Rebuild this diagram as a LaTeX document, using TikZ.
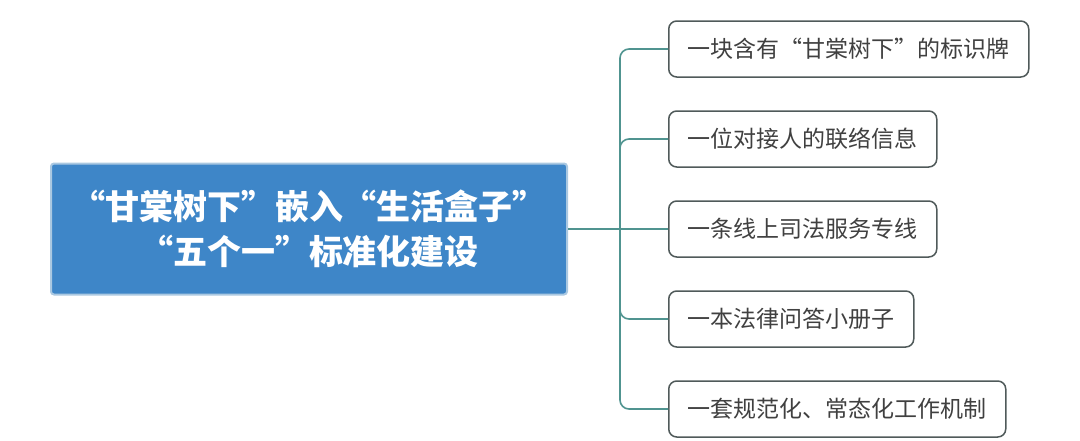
\documentclass[tikz,border=0pt]{standalone}
\usepackage{fontspec}
\newfontfamily\cjk{Noto Sans CJK SC}
\definecolor{boxblue}{RGB}{62,134,200}
\definecolor{edgeblue}{RGB}{170,200,225}
\definecolor{teal}{RGB}{80,148,144}
\definecolor{framegray}{RGB}{80,90,90}
\definecolor{textgray}{RGB}{64,64,64}
\tikzset{
  mainbox/.style={draw=edgeblue, line width=2pt, rounded corners=3pt, fill=boxblue, text=white,
    minimum width=516pt, minimum height=131pt, align=center,
    font=\cjk\bfseries\fontsize{34}{45}\selectfont},
  item/.style={draw=framegray, line width=1.5pt, rounded corners=8pt, fill=white,
    anchor=west, minimum height=56pt, inner xsep=19pt, text=textgray,
    font=\cjk\fontsize{23}{28}\selectfont},
  conn/.style={draw=teal, line width=1.6pt, rounded corners=9pt}
}
\begin{document}
\begin{tikzpicture}[x=1pt,y=-1pt]
	\useasboundingbox (0,0) rectangle (1080,440);
	\node[mainbox] (main) at (309,229) {“甘棠树下”嵌入“生活盒子”\\“五个一”标准化建设};
	\foreach \n/\y/\t in {1/49/一块含有“甘棠树下”的标识牌, 2/139/一位对接人的联络信息,
		3/229/一条线上司法服务专线, 4/319/一本法律问答小册子, 5/409/一套规范化、常态化工作机制}
		\node[item] (b\n) at (668,\y) {\t};
	\coordinate (hub) at (620,229);
	\draw[conn] (main.east) -- (b3.west);
	\foreach \n in {1,2,4,5}
		\draw[conn] (hub) |- (b\n.west);
\end{tikzpicture}
\end{document}
